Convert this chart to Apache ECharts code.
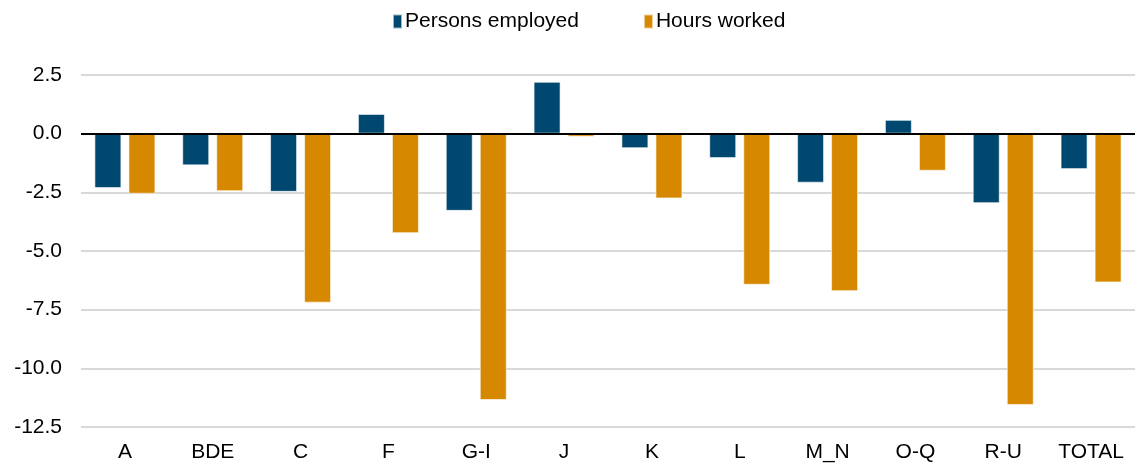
<!DOCTYPE html>
<html>
<head>
<meta charset="utf-8">
<script src="https://cdn.jsdelivr.net/npm/echarts@6/dist/echarts.min.js"></script>
<style>
html,body{margin:0;padding:0;background:#fff;}
#chart{width:1136px;height:468px;}
</style>
</head>
<body>
<div id="chart"></div>
<script>
const categories = ['A','BDE','C','F','G-I','J','K','L','M_N','O-Q','R-U','TOTAL'];
const personsEmployed = [-2.32,-1.35,-2.48,0.84,-3.29,2.21,-0.62,-1.04,-2.09,0.59,-2.96,-1.51];
const hoursWorked = [-2.56,-2.45,-7.20,-4.24,-11.35,-0.13,-2.76,-6.44,-6.71,-1.58,-11.56,-6.34];
const seriesNames = ['Persons employed','Hours worked'];

const FONT = '"Liberation Sans", Arial, sans-serif';
const chart = echarts.init(document.getElementById('chart'), null, {renderer:'canvas'});
chart.setOption({
  animation:false,
  backgroundColor:'#ffffff',
  color:['#00486f','#d68800'],
  textStyle:{fontFamily:FONT},
  legend:{
    top:6,
    left:387,
    itemWidth:9,
    itemHeight:14,
    itemGap:64,
    icon:'rect',
    textStyle:{fontFamily:FONT,fontSize:21,color:'#000',padding:[0,0,0,-2]},
    data:seriesNames
  },
  grid:{left:81,right:1,top:75,bottom:41,containLabel:false},
  xAxis:{
    type:'category',
    data:categories,
    axisLine:{show:false,onZero:false},
    axisTick:{show:false},
    axisLabel:{fontFamily:FONT,fontSize:21,color:'#000',margin:15}
  },
  yAxis:{
    type:'value',
    min:-12.5,max:2.5,interval:2.5,
    axisLine:{show:false},
    axisTick:{show:false},
    splitLine:{lineStyle:{color:'#d9d9d9',width:2}},
    axisLabel:{fontFamily:FONT,fontSize:21,color:'#000',margin:19,formatter:v=>v.toFixed(1)}
  },
  series:[
    {
      name:seriesNames[0],type:'bar',data:personsEmployed,
      barWidth:27,barGap:'26%',
      itemStyle:{borderColor:'rgba(255,255,255,0.6)',borderWidth:1},
      markLine:{silent:true,symbol:'none',label:{show:false},
        lineStyle:{color:'#000',width:2,type:'solid'},data:[{yAxis:0}]}
    },
    {
      name:seriesNames[1],type:'bar',data:hoursWorked,
      barWidth:27,barGap:'26%',
      itemStyle:{borderColor:'rgba(255,255,255,0.6)',borderWidth:1}
    }
  ]
});
</script>
</body>
</html>
